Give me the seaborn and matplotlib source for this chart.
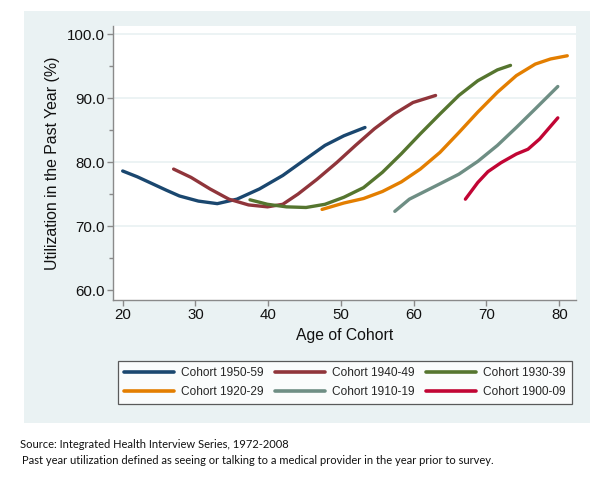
import numpy as np
import pandas as pd
import matplotlib
matplotlib.use("Agg")
import matplotlib.pyplot as plt
from matplotlib.patches import Rectangle
import seaborn as sns

cohorts = ["Cohort 1950-59", "Cohort 1940-49", "Cohort 1930-39",
           "Cohort 1920-29", "Cohort 1910-19", "Cohort 1900-09"]

age_1950 = [20.0, 22.0, 24.1, 26.0, 27.8, 30.4, 33.0, 35.7, 38.8, 42.0, 45.2, 47.8, 50.4, 53.3]
val_1950 = [78.6, 77.7, 76.6, 75.6, 74.7, 73.9, 73.5, 74.2, 75.8, 77.9, 80.5, 82.6, 84.1, 85.4]

age_1940 = [27.0, 29.4, 32.0, 34.6, 37.3, 39.9, 42.0, 44.1, 46.7, 49.4, 52.0, 54.6, 57.3, 59.9, 63.0]
val_1940 = [78.9, 77.6, 75.8, 74.2, 73.3, 73.0, 73.4, 75.0, 77.3, 79.9, 82.6, 85.2, 87.5, 89.3, 90.4]

age_1930 = [37.5, 39.9, 42.5, 45.2, 47.8, 50.4, 53.1, 55.7, 58.3, 60.9, 63.6, 66.2, 68.8, 71.5, 73.3]
val_1930 = [74.1, 73.4, 73.0, 72.9, 73.4, 74.5, 76.0, 78.4, 81.3, 84.4, 87.5, 90.4, 92.7, 94.4, 95.1]

age_1920 = [47.4, 50.4, 53.1, 55.7, 58.3, 60.9, 63.6, 66.2, 68.8, 71.5, 74.1, 76.7, 78.8, 81.1]
val_1920 = [72.6, 73.6, 74.3, 75.4, 76.9, 78.9, 81.5, 84.6, 87.8, 90.9, 93.5, 95.3, 96.1, 96.6]

age_1910 = [57.4, 59.4, 61.5, 63.6, 66.2, 68.8, 71.5, 74.1, 76.7, 79.8]
val_1910 = [72.3, 74.2, 75.4, 76.6, 78.1, 80.1, 82.6, 85.4, 88.3, 91.8]

age_1900 = [67.1, 68.8, 70.2, 72.0, 74.1, 75.7, 77.3, 79.8]
val_1900 = [74.2, 76.8, 78.5, 79.9, 81.25, 82.0, 83.6, 86.9]

x_ticks = [20, 30, 40, 50, 60, 70, 80]
y_ticks = [60, 70, 80, 90, 100]
y_ticklabels = ["60.0", "70.0", "80.0", "90.0", "100.0"]

ages = [age_1950, age_1940, age_1930, age_1920, age_1910, age_1900]
vals = [val_1950, val_1940, val_1930, val_1920, val_1910, val_1900]
frames = []
for name, a, v in zip(cohorts, ages, vals):
    frames.append(pd.DataFrame({"age": a, "util": v, "cohort": name}))
df = pd.concat(frames, ignore_index=True)

colors = ["#1a476f", "#90353b", "#55752f", "#e37e00", "#6e8e84", "#c10534"]
palette = dict(zip(cohorts, colors))

sns.set_theme(style="white")
plt.rcParams["font.family"] = ["Liberation Sans", "DejaVu Sans"]

fig = plt.figure(figsize=(6.0, 4.83), dpi=100)
bg = "#eaf2f3"
fig.patches.append(Rectangle((24 / 600, 1 - 423 / 483), 566 / 600, 412 / 483,
                             transform=fig.transFigure, facecolor=bg,
                             edgecolor="none", zorder=-10))

ax = fig.add_axes([113 / 600, 1 - 300 / 483, 463 / 600, 274 / 483])
ax.set_facecolor("white")
sns.lineplot(data=df, x="age", y="util", hue="cohort", palette=palette,
             hue_order=cohorts, linewidth=2.4, ax=ax, sort=False,
             solid_capstyle="round")

ax.set_xlim(18.67, 82.3)
ax.set_ylim(58.45, 101.25)
ax.set_xticks(x_ticks)
ax.set_yticks(y_ticks)
ax.set_yticklabels(y_ticklabels)
ax.set_yticks([65, 75, 85, 95], minor=True)
for yv in [70, 80, 90, 100]:
    ax.axhline(yv, color=bg, lw=1.3, zorder=0.5)

for s in ["top", "right"]:
    ax.spines[s].set_visible(False)
for s in ["left", "bottom"]:
    ax.spines[s].set_color("#8a8a8a")
    ax.spines[s].set_linewidth(1.0)
ax.tick_params(axis="both", which="major", direction="out", length=4,
               width=1.0, color="#8a8a8a", labelsize=10.8, pad=2,
               left=True, bottom=True, labelcolor="#111111")
ax.tick_params(axis="y", which="minor", direction="out", length=3,
               width=1.0, color="#8a8a8a", left=True)

ax.set_xlabel("Age of Cohort", fontsize=11.3, color="#111111", labelpad=4)
ax.set_ylabel("Utilization in the Past Year (%)", fontsize=11.4,
              color="#111111", labelpad=5)

handles, labels = ax.get_legend_handles_labels()
order = [0, 3, 1, 4, 2, 5]
ax.get_legend().remove()
leg = fig.legend([handles[i] for i in order], [labels[i] for i in order],
                 loc="lower left",
                 bbox_to_anchor=(118 / 600, 1 - 404 / 483, 454 / 600, 47 / 483),
                 mode="expand", ncol=3, fontsize=8.6, frameon=True,
                 fancybox=False, edgecolor="#333333", facecolor="white",
                 handlelength=4.2, handletextpad=0.6, columnspacing=1.0,
                 borderaxespad=0, borderpad=0.5, labelspacing=0.6)
leg.get_frame().set_linewidth(0.9)
for line in leg.get_lines():
    line.set_linewidth(2.6)

note_font = ["Lato", "DejaVu Sans"]
fig.text(20 / 600, 1 - 445 / 483, "Source: Integrated Health Interview Series, 1972-2008",
         fontsize=8.05, family=note_font, va="center", ha="left", color="#111111")
fig.text(22 / 600, 1 - 460 / 483,
         "Past year utilization defined as seeing or talking to a medical provider in the year prior to survey.",
         fontsize=8.05, family=note_font, va="center", ha="left", color="#111111")

fig.savefig("out.png", dpi=100, facecolor="white")
